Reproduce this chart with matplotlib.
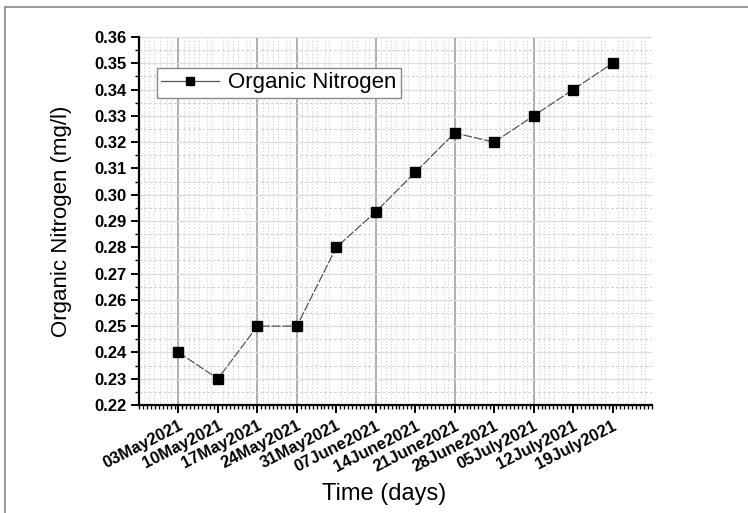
import matplotlib
matplotlib.use("Agg")
import matplotlib.pyplot as plt
import matplotlib.transforms as mtransforms
from matplotlib.lines import Line2D
from matplotlib.ticker import MultipleLocator, AutoMinorLocator
import numpy as np

dates = ["03May2021", "10May2021", "17May2021", "24May2021", "31May2021",
         "07June2021", "14June2021", "21June2021", "28June2021",
         "05July2021", "12July2021", "19July2021"]
nitrogen = [0.24, 0.23, 0.25, 0.25, 0.28, 0.2935, 0.3085, 0.3235,
            0.32, 0.33, 0.34, 0.35]

plt.rcParams['font.family'] = ['Liberation Sans', 'DejaVu Sans']

fig = plt.figure(figsize=(7.48, 5.13), dpi=100)
ax = fig.add_axes([139 / 748, 108 / 513, 513 / 748, 368 / 513])

# outer frame of the picture (left and top edges only visible)
fig.add_artist(Line2D([5 / 748, 5 / 748], [0, 1 - 7 / 513], color="#888888", lw=1.2))
fig.add_artist(Line2D([5 / 748, 1], [1 - 7 / 513, 1 - 7 / 513], color="#888888", lw=1.2))

x = np.arange(len(dates))

# grid: darker verticals at a few dates, clusters of light dashed lines
for i in [0, 2, 3, 5, 7, 9]:
    ax.axvline(i, color="#999999", lw=1.1, zorder=0)
minor_x = []
for i in range(-1, 13):
    for off in (0.13, 0.26, 0.39, 0.52, -0.18, -0.28):
        minor_x.append(i + off)
for v in minor_x:
    ax.axvline(v, color="#d4d4d4", lw=0.6, ls=(0, (2, 2)), zorder=0)
for v in np.arange(0.22, 0.3601, 0.01):
    ax.axhline(v, color="#dcdcdc", lw=0.9, zorder=0)
for v in np.arange(0.225, 0.36, 0.01):
    ax.axhline(v, color="#d0d0d0", lw=0.7, ls=(0, (3, 2)), zorder=0)

ax.plot(x, nitrogen, color="#555555", lw=0.9, ls=(0, (7, 1.5)),
        marker="s", markersize=6.5, markerfacecolor="black",
        markeredgecolor="black", zorder=3)

ax.set_xlim(-1, 12)
ax.set_ylim(0.22, 0.36)
ax.set_xticks(x)
ax.set_xticklabels(dates, rotation=27, ha="right", va="top", rotation_mode="anchor",
                   fontsize=12, fontweight="bold")
shift = mtransforms.ScaledTranslation(10 / 100, -10 / 100, fig.dpi_scale_trans)
for lab in ax.get_xticklabels():
    lab.set_transform(lab.get_transform() + shift)
ax.xaxis.set_minor_locator(AutoMinorLocator(10))
ax.yaxis.set_minor_locator(MultipleLocator(0.005))
ax.set_yticks(np.arange(0.22, 0.3601, 0.01))
ax.set_yticklabels([f"{v:.2f}" for v in np.arange(0.22, 0.3601, 0.01)],
                   fontsize=12, fontweight="bold")
ax.set_ylim(0.22, 0.36)

ax.tick_params(axis="both", which="major", direction="out", length=6, width=1.4, color="black")
ax.tick_params(axis="both", which="minor", direction="out", length=3, width=1.0, color="black")
ax.tick_params(axis="y", which="major", pad=3)

for s in ["top", "right"]:
    ax.spines[s].set_visible(False)
for s in ["left", "bottom"]:
    ax.spines[s].set_linewidth(1.6)

ax.set_xlabel("Time (days)", fontsize=17)
ax.set_ylabel("Organic Nitrogen (mg/l)", fontsize=16)
ax.xaxis.set_label_coords(0.478, -0.212)
ax.yaxis.set_label_coords(-0.13, 0.5)

handle = Line2D([], [], color="#555555", lw=0.9, marker="s", markersize=6,
                markerfacecolor="black", markeredgecolor="black")
leg = ax.legend([handle], ["Organic Nitrogen"], loc="upper left",
                bbox_to_anchor=(0.035, 0.916), fontsize=16, fancybox=False,
                framealpha=1, edgecolor="#888888", handlelength=2.6,
                borderpad=0.2, handletextpad=0.4, borderaxespad=0)
leg.get_frame().set_linewidth(1.0)

fig.savefig("out.png", dpi=100)
